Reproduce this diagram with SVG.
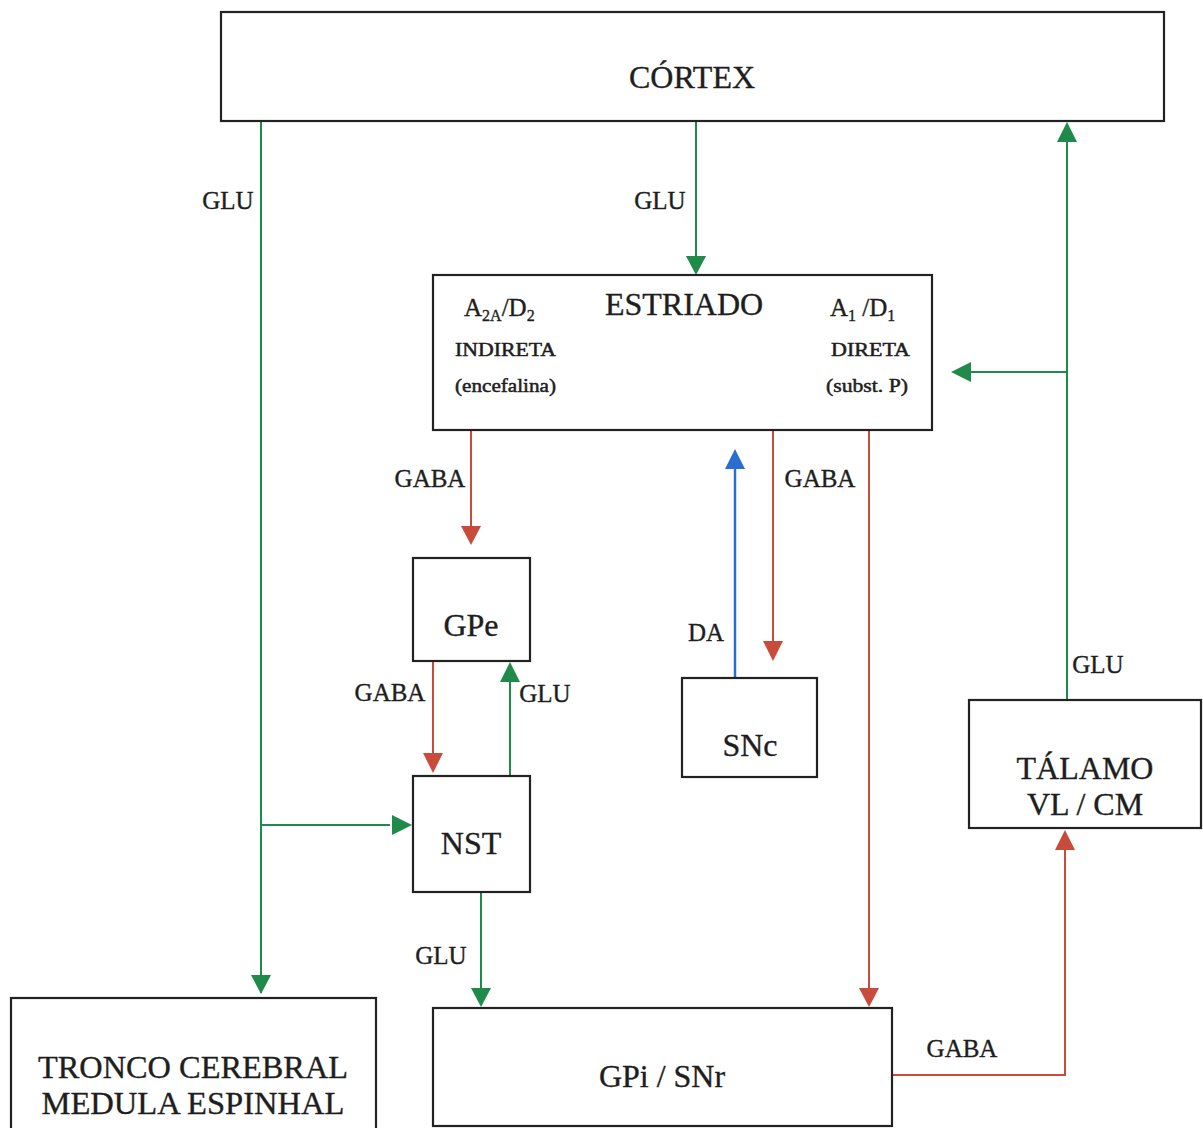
<svg xmlns="http://www.w3.org/2000/svg" width="1203" height="1128" viewBox="0 0 1203 1128">
<style>
.box{fill:#fff;stroke:#222;stroke-width:2.2}
text{font-family:"Liberation Serif","Times New Roman",serif;fill:#1e1e1e;stroke:#1e1e1e;stroke-width:0.35}
.big{font-size:32px}
.lbl{font-size:25px}
.sm{font-size:19px;stroke-width:0.5}
.g{stroke:#1f8a4a;stroke-width:2;fill:none}
.r{stroke:#c84b3c;stroke-width:2;fill:none}
.b{stroke:#2a6fd0;stroke-width:2.5;fill:none}
</style>
<rect width="1203" height="1128" fill="#fff"/>
<g id="connectors">
<path class="g" d="M261,121 V993"/>
<path class="g" d="M261,825 H390"/>
<path d="M392,815 L412,825 L392,835 z" fill="#1f8a4a"/>
<path d="M251,975 L261,994 L271,975 z" fill="#1f8a4a"/>
<path class="g" d="M696,121 V258"/>
<path d="M686,256 L696,275 L706,256 z" fill="#1f8a4a"/>
<path class="g" d="M1067,700 V142"/>
<path d="M1057,142 L1067,122 L1077,142 z" fill="#1f8a4a"/>
<path class="g" d="M1067,372 H970"/>
<path d="M971,362 L951,372 L971,382 z" fill="#1f8a4a"/>
<path class="r" d="M471,430 V528"/>
<path d="M461,526 L471,545 L481,526 z" fill="#c84b3c"/>
<path class="r" d="M433,661 V755"/>
<path d="M423,753 L433,773 L443,753 z" fill="#c84b3c"/>
<path class="g" d="M510,776 V682"/>
<path d="M500,682 L510,662 L520,682 z" fill="#1f8a4a"/>
<path class="g" d="M481,892 V990"/>
<path d="M471,988 L481,1007 L491,988 z" fill="#1f8a4a"/>
<path class="b" d="M735,678 V468"/>
<path d="M725,469 L735,449 L745,469 z" fill="#2a6fd0"/>
<path class="r" d="M773,430 V643"/>
<path d="M763,641 L773,661 L783,641 z" fill="#c84b3c"/>
<path class="r" d="M869,430 V990"/>
<path d="M859,988 L869,1007 L879,988 z" fill="#c84b3c"/>
<path class="r" d="M892,1075 H1065 V850"/>
<path d="M1055,850 L1065,830 L1075,850 z" fill="#c84b3c"/>
<text class="lbl" x="228" y="209" text-anchor="middle">GLU</text>
<text class="lbl" x="660" y="209" text-anchor="middle">GLU</text>
<text class="lbl" x="1098" y="673" text-anchor="middle">GLU</text>
<text class="lbl" x="430" y="487" text-anchor="middle">GABA</text>
<text class="lbl" x="820" y="487" text-anchor="middle">GABA</text>
<text class="lbl" x="390" y="701" text-anchor="middle">GABA</text>
<text class="lbl" x="545" y="702" text-anchor="middle">GLU</text>
<text class="lbl" x="441" y="964" text-anchor="middle">GLU</text>
<text class="lbl" x="706" y="641" text-anchor="middle">DA</text>
<text class="lbl" x="962" y="1057" text-anchor="middle">GABA</text>
</g>
<g id="cortex">
<rect class="box" x="221" y="12" width="943" height="109"/>
<text class="big" x="692" y="88" text-anchor="middle">CÓRTEX</text>
</g>
<g id="estriado">
<rect class="box" x="433" y="275" width="499" height="155"/>
<text class="big" x="684" y="315" text-anchor="middle">ESTRIADO</text>
<text class="lbl" x="464" y="316">A<tspan font-size="16" dy="5">2A</tspan><tspan dy="-5">/D</tspan><tspan font-size="16" dy="5">2</tspan></text>
<text class="lbl" x="830" y="316">A<tspan font-size="16" dy="5">1</tspan><tspan dy="-5"> /D</tspan><tspan font-size="16" dy="5">1</tspan></text>
<text class="sm" x="455" y="356" textLength="101" lengthAdjust="spacingAndGlyphs">INDIRETA</text>
<text class="sm" x="455" y="392" textLength="101" lengthAdjust="spacingAndGlyphs">(encefalina)</text>
<text class="sm" x="831" y="356" textLength="79" lengthAdjust="spacingAndGlyphs">DIRETA</text>
<text class="sm" x="826" y="392" textLength="82" lengthAdjust="spacingAndGlyphs">(subst. P)</text>
</g>
<g id="gpe">
<rect class="box" x="413" y="558" width="117" height="103"/>
<text class="big" x="471" y="636" text-anchor="middle" font-size="30">GPe</text>
</g>
<g id="nst">
<rect class="box" x="413" y="776" width="117" height="116"/>
<text class="big" x="471" y="854" text-anchor="middle" font-size="30">NST</text>
</g>
<g id="snc">
<rect class="box" x="682" y="678" width="135" height="99"/>
<text class="big" x="750" y="756" text-anchor="middle" font-size="30">SNc</text>
</g>
<g id="talamo">
<rect class="box" x="969" y="700" width="232" height="128"/>
<text class="big" x="1085" y="779" text-anchor="middle">TÁLAMO</text>
<text class="big" x="1085" y="815" text-anchor="middle">VL / CM</text>
</g>
<g id="gpi">
<rect class="box" x="433" y="1008" width="459" height="118"/>
<text class="big" x="662" y="1087" text-anchor="middle" font-size="30">GPi / SNr</text>
</g>
<g id="tronco">
<rect class="box" x="11" y="998" width="365" height="140"/>
<text class="big" x="193" y="1078" text-anchor="middle" textLength="310" lengthAdjust="spacingAndGlyphs">TRONCO CEREBRAL</text>
<text class="big" x="193" y="1114" text-anchor="middle" textLength="303" lengthAdjust="spacingAndGlyphs">MEDULA ESPINHAL</text>
</g>
</svg>
